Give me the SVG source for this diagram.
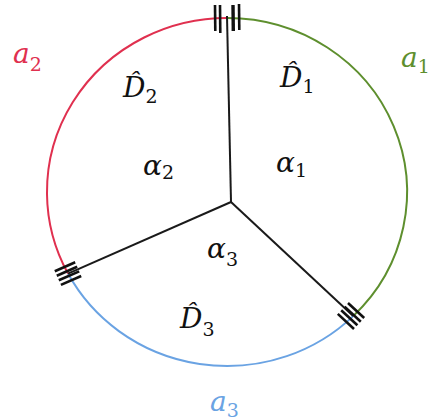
<svg xmlns="http://www.w3.org/2000/svg" width="433" height="420" viewBox="0 0 433 420">
<style>
.arc{fill:none;stroke-width:2;}
.spoke{stroke:#1a1a1a;stroke-width:2;fill:none;}
.tick{stroke:#111;stroke-width:2.6;stroke-linecap:butt;}
text{font-family:"DejaVu Serif",serif;font-style:italic;font-size:28px;fill:#111;}
tspan{font-style:normal;font-size:19px;}
</style>
<rect width="433" height="420" fill="#fff"/>
<g id="connectors">
<path id="arc-a1" class="arc" stroke="#5e8f2e" d="M227,18 A180,174 0 0 1 353.2,316.1"/>
<path id="arc-a3" class="arc" stroke="#6aa3e3" d="M353.2,316.1 A180,174 0 0 1 68,273.6"/>
<path id="arc-a2" class="arc" stroke="#e0304f" d="M68,273.6 A180,174 0 0 1 227,18"/>
<line class="spoke" x1="231" y1="202" x2="227" y2="16"/>
<line class="spoke" x1="231" y1="202" x2="68" y2="273.6"/>
<line class="spoke" x1="231" y1="202" x2="353.2" y2="316.1"/>
</g>
<g id="junction-top">
<line class="tick" x1="215" y1="5" x2="215.3" y2="31"/>
<line class="tick" x1="220" y1="5" x2="220.3" y2="33"/>
<line class="tick" x1="233" y1="5" x2="233.3" y2="31" style="stroke-width:3.4"/>
<line class="tick" x1="239" y1="4" x2="239.3" y2="30"/>
</g>
<g id="junction-left">
<line class="tick" x1="54.8" y1="271.2" x2="75.2" y2="262.3"/>
<line class="tick" x1="56.8" y1="275.7" x2="77.2" y2="266.8"/>
<line class="tick" x1="58.8" y1="280.3" x2="79.2" y2="271.4"/>
<line class="tick" x1="60.9" y1="284.9" x2="81.2" y2="276.0"/>
</g>
<g id="junction-right">
<line class="tick" x1="337.8" y1="313.9" x2="354.0" y2="329.0"/>
<line class="tick" x1="341.2" y1="310.3" x2="357.4" y2="325.3"/>
<line class="tick" x1="344.6" y1="306.6" x2="360.8" y2="321.7"/>
<line class="tick" x1="348.0" y1="303.0" x2="364.2" y2="318.0"/>
</g>
<g id="label-a1"><text x="401" y="67" style="fill:#5e8f2e">a<tspan dy="6">1</tspan></text></g>
<g id="label-a2"><text x="13" y="63" style="fill:#e0304f">a<tspan dy="8">2</tspan></text></g>
<g id="label-a3"><text x="210" y="411" style="fill:#6aa3e3">a<tspan dy="6">3</tspan></text></g>
<g id="region-D1"><text x="280" y="87">D̂<tspan dy="6">1</tspan></text></g>
<g id="region-D2"><text x="123" y="97">D̂<tspan dy="6">2</tspan></text></g>
<g id="region-D3"><text x="180" y="328">D̂<tspan dy="8">3</tspan></text></g>
<g id="region-alpha1"><text x="276" y="172">α<tspan dy="5">1</tspan></text></g>
<g id="region-alpha2"><text x="143" y="175">α<tspan dy="4">2</tspan></text></g>
<g id="region-alpha3"><text x="207" y="258">α<tspan dy="8">3</tspan></text></g>
</svg>
